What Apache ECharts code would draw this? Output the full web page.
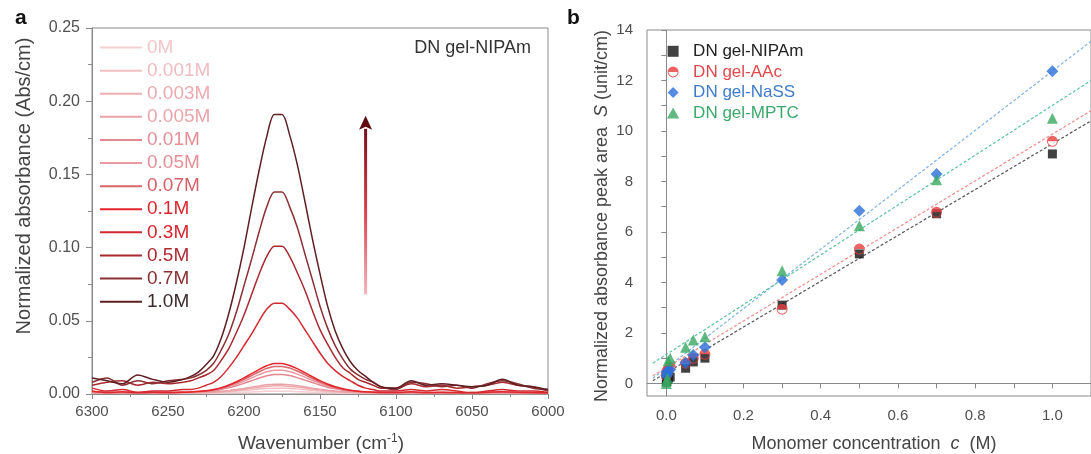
<!DOCTYPE html>
<html><head><meta charset="utf-8">
<script src="https://cdn.jsdelivr.net/npm/echarts@6/dist/echarts.min.js"></script>
<style>html,body{margin:0;padding:0;background:#fff;}#c{width:1091px;height:454px;}</style>
</head><body><div id="c"></div>
<script>
// ---------- Panel a data ----------
const wavenumbers = [6300,6290,6280,6270,6260,6250,6240,6235,6230,6225,6220,6215,6210,6205,6200,6195,6190,6185,6180,6175,6170,6165,6160,6155,6150,6145,6140,6135,6130,6125,6120,6115,6110,6100,6090,6080,6070,6060,6050,6040,6030,6020,6010,6000];
const concLabels = ['0M','0.001M','0.003M','0.005M','0.01M','0.05M','0.07M','0.1M','0.3M','0.5M','0.7M','1.0M'];
const abs0M    = [0.0005,0.0006,0.0005,0.0005,0.0005,0.0005, 0.0005,0.0005,0.0006,0.0006,0.0007,0.0008,0.0009,0.001,0.0012,0.0014,0.0016,0.0018,0.0019,0.0019,0.0018,0.0016,0.0014,0.0012,0.001,0.0009,0.0008,0.0007,0.0006,0.0006,0.0005,0.0005,0.0005, 0.0005,0.0005,0.0004,0.0005,0.0004,0.0004,0.0005,0.0005,0.0004,0.0004,0.0004];
const abs0001M = [0.0006,0.0007,0.0006,0.0006,0.0006,0.0006, 0.0006,0.0007,0.0007,0.0008,0.0009,0.0012,0.0015,0.0019,0.0024,0.0029,0.0034,0.0038,0.004,0.004,0.0038,0.0035,0.003,0.0025,0.002,0.0016,0.0013,0.001,0.0009,0.0008,0.0007,0.0006,0.0006, 0.0006,0.0006,0.0005,0.0006,0.0005,0.0005,0.0006,0.0006,0.0005,0.0005,0.0005];
const abs0003M = [0.0007,0.0008,0.0007,0.0008,0.0007,0.0007, 0.0009,0.0009,0.001,0.0011,0.0013,0.0016,0.002,0.0026,0.0032,0.0039,0.0046,0.0052,0.0056,0.0056,0.0052,0.0047,0.0041,0.0034,0.0027,0.0022,0.0017,0.0014,0.0012,0.001,0.0009,0.0009,0.0008, 0.0007,0.0008,0.0007,0.0007,0.0006,0.0007,0.0007,0.0008,0.0007,0.0006,0.0006];
const abs0005M = [0.0008,0.0009,0.0007,0.0008,0.0007,0.0008, 0.0009,0.001,0.001,0.0012,0.0014,0.0018,0.0023,0.003,0.0038,0.0047,0.0055,0.0063,0.0067,0.0067,0.0064,0.0057,0.0049,0.004,0.0032,0.0025,0.002,0.0016,0.0013,0.0011,0.001,0.0009,0.0008, 0.0008,0.0009,0.0007,0.0008,0.0007,0.0007,0.0008,0.0009,0.0007,0.0007,0.0006];
const abs001M  = [0.0012,0.0009,0.001,0.0008,0.001,0.0009, 0.0012,0.0013,0.0015,0.0018,0.0023,0.0031,0.0042,0.0056,0.0073,0.0091,0.0109,0.0124,0.0134,0.0134,0.0126,0.0112,0.0095,0.0078,0.0061,0.0046,0.0035,0.0026,0.002,0.0016,0.0013,0.0012,0.001, 0.0009,0.001,0.0008,0.0009,0.0008,0.0007,0.0009,0.001,0.0008,0.0008,0.0006];
const abs005M  = [0.001,0.0012,0.0008,0.001,0.0009,0.001, 0.0012,0.0013,0.0016,0.002,0.0026,0.0036,0.005,0.0067,0.0088,0.011,0.0132,0.0152,0.0163,0.0163,0.0153,0.0136,0.0115,0.0094,0.0073,0.0055,0.0041,0.003,0.0022,0.0017,0.0014,0.0012,0.001, 0.0009,0.0011,0.0008,0.001,0.0009,0.0008,0.001,0.0012,0.0009,0.0008,0.0006];
const abs007M  = [0.0015,0.001,0.0012,0.0008,0.001,0.001, 0.0012,0.0014,0.0017,0.0021,0.0028,0.004,0.0056,0.0077,0.010,0.0126,0.0152,0.0175,0.0188,0.0188,0.0177,0.0157,0.0132,0.0107,0.0083,0.0062,0.0045,0.0033,0.0024,0.0018,0.0015,0.0012,0.0011, 0.001,0.0012,0.0009,0.001,0.0008,0.001,0.0011,0.0013,0.001,0.0009,0.0007];
const abs01M   = [0.002,0.001,0.0015,0.001,0.0012,0.001, 0.0012,0.0014,0.0018,0.0022,0.003,0.0043,0.0061,0.0084,0.011,0.0139,0.0168,0.0193,0.0208,0.0208,0.0195,0.0173,0.0146,0.0118,0.0091,0.0068,0.0049,0.0036,0.0026,0.0019,0.0015,0.0012,0.0011, 0.001,0.0015,0.001,0.0012,0.001,0.0008,0.0012,0.0015,0.0012,0.001,0.0008];
const abs03M   = [0.004,0.002,0.003,0.001,0.002,0.002, 0.003,0.003,0.004,0.006,0.008,0.012,0.018,0.025,0.033,0.041,0.050,0.058,0.062,0.062,0.058,0.052,0.044,0.036,0.028,0.021,0.016,0.012,0.009,0.006,0.004,0.003,0.002, 0.002,0.003,0.002,0.003,0.002,0.001,0.002,0.003,0.002,0.002,0.001];
const abs05M   = [0.006,0.008,0.009,0.006,0.008,0.007, 0.008,0.009,0.011,0.013,0.016,0.023,0.031,0.042,0.054,0.068,0.082,0.094,0.101,0.101,0.094,0.083,0.071,0.057,0.044,0.034,0.025,0.018,0.014,0.010,0.008,0.006,0.004, 0.004,0.007,0.005,0.006,0.004,0.005,0.006,0.008,0.006,0.005,0.002];
const abs07M   = [0.008,0.011,0.006,0.009,0.007,0.009, 0.010,0.011,0.013,0.016,0.021,0.030,0.041,0.056,0.074,0.092,0.111,0.128,0.138,0.138,0.128,0.114,0.096,0.078,0.060,0.045,0.033,0.024,0.017,0.013,0.010,0.008,0.005, 0.003,0.008,0.007,0.005,0.006,0.004,0.007,0.009,0.007,0.004,0.003];
const abs10M   = [0.011,0.009,0.007,0.013,0.010,0.008, 0.010,0.012,0.015,0.020,0.026,0.038,0.055,0.076,0.100,0.127,0.153,0.176,0.191,0.191,0.177,0.157,0.132,0.106,0.082,0.060,0.043,0.031,0.022,0.016,0.012,0.008,0.005, 0.004,0.009,0.006,0.007,0.006,0.005,0.006,0.010,0.006,0.005,0.003];
const spectra = [abs0M,abs0001M,abs0003M,abs0005M,abs001M,abs005M,abs007M,abs01M,abs03M,abs05M,abs07M,abs10M];
const arrowWavenumber = 6120;
const arrowFromAbs = 0.068;
const arrowToAbs = 0.190;

// ---------- Panel b data ----------
const monomerConc = [0, 0.001, 0.003, 0.005, 0.01, 0.05, 0.07, 0.1, 0.3, 0.5, 0.7, 1.0];
const areaNIPAm = [0.05, 0.1, 0.15, 0.2, 0.25, 0.6, 0.85, 1.0, 3.1, 5.13, 6.72, 9.09];
const areaAAc   = [0.3, 0.4, 0.5, 0.55, 0.65, 0.8, 1.0, 1.15, 2.94, 5.32, 6.78, 9.59];
const areaNaSS  = [0.3, 0.45, 0.35, 0.5, 0.55, 0.82, 1.12, 1.43, 4.1, 6.84, 8.3, 12.37];
const areaMPTC  = [0.0, 0.1, 0.2, 0.9, 1.0, 1.43, 1.72, 1.85, 4.46, 6.24, 8.07, 10.5];
const fitNIPAm = [[-0.035, 0.1], [1.1, 10.4]];
const fitAAc   = [[-0.035, 0.3], [1.1, 10.8]];
const fitNaSS  = [[-0.035, 0.2], [1.1, 13.55]];
const fitMPTC  = [[-0.035, 0.8], [1.1, 12.0]];
const gelNames = ['DN gel-NIPAm','DN gel-AAc','DN gel-NaSS','DN gel-MPTC'];
const xTicksB = [0, 0.1, 0.2, 0.3, 0.4, 0.5, 0.6, 0.7, 0.8, 0.9, 1.0, 1.1];
const xLabelsB = [0, 0.2, 0.4, 0.6, 0.8, 1.0];
const yTicksB = [0,1,2,3,4,5,6,7,8,9,10,11,12,13,14];
const yLabelsB = [0,2,4,6,8,10,12,14];

// ---------- styles ----------
const FONT = "'Liberation Sans', Arial, sans-serif";
const lineColors = ['#f6cfd2','#f2bfc3','#eeadb2','#eaa2a8','#e4868e','#e99aa0','#d8646c','#e3262c','#d22a30','#a82a30','#8a3034','#5e1e22'];
const legendTextColors = ['#f3c6c9','#efbcc0','#ecabb0','#e9a5ab','#e58e96','#e58f97','#d65f68','#df262c','#d5272d','#ae2a30','#8a3034','#3b2a2b'];
const gelColors = ['#111111','#e83b3b','#2b6fda','#38a860'];
const gelTextColors = ['#222222','#e0494c','#3c7ccb','#3da86b'];
const fitColors = ['#555555','#f08c8c','#7fb2e6','#5cc2a6'];
const halfCircle = 'path://M0,10 A10,10 0 0 1 20,10 Z M0,10 A10,10 0 0 0 20,10 L18.2,10 A8.2,8.2 0 0 1 1.8,10 Z';
const legendIcons = ['path://M0,0H10V10H0Z', halfCircle, 'path://M5,0L10,5L5,10L0,5Z', 'path://M5,0L10,9L0,9Z'];

const chart = echarts.init(document.getElementById('c'));
const axisLineStyle = {lineStyle:{color:'#8a8a8a', width:1}};
const labelStyle = {color:'#505050', fontFamily:FONT};

const seriesA = concLabels.map((name, i) => ({
  name, type:'line', xAxisIndex:0, yAxisIndex:0,
  data: wavenumbers.map((w, j) => [w, spectra[i][j]]),
  showSymbol:false, smooth:0.3, silent:true,
  lineStyle:{color:lineColors[i], width:1.5}, itemStyle:{color:lineColors[i]},
  z: 2 + i
}));

const gelData = [areaNIPAm, areaAAc, areaNaSS, areaMPTC];
const fitData = [fitNIPAm, fitAAc, fitNaSS, fitMPTC];
const gelSymbols = ['rect', halfCircle, 'diamond', 'triangle'];
const gelSizes = [9, 11, 12, 11];
const seriesFit = fitData.map((d, i) => ({
  name: 'fit' + i, type:'line', xAxisIndex:1, yAxisIndex:1, data:d,
  showSymbol:false, symbol:'none', silent:true,
  lineStyle:{color:fitColors[i], width:1.2, type:[3,2]}, z:2
}));
const seriesAAcBg = {
  name:'aacbg', type:'scatter', xAxisIndex:1, yAxisIndex:1,
  data: monomerConc.map((c,j)=>[c, areaAAc[j]]), symbol:'circle', symbolSize:10,
  itemStyle:{color:'#ffffff'}, silent:true, z:4
};
const seriesB = gelNames.map((name, i) => ({
  name, type:'scatter', xAxisIndex:1, yAxisIndex:1,
  data: monomerConc.map((c, j) => [c, gelData[i][j]]),
  symbol: gelSymbols[i], symbolSize: gelSizes[i],
  itemStyle:{color:gelColors[i]}, silent:true, z: 5 + i
}));

chart.setOption({
  animation:false,
  backgroundColor:'#ffffff',
  grid:[
    {left:92, right:543, top:28, bottom:60, show:true, borderColor:'#8a8a8a', borderWidth:1},
    {left:647, right:-11, top:30, bottom:58, show:true, borderColor:'#8a8a8a', borderWidth:1}
  ],
  xAxis:[
    {gridIndex:0, type:'value', inverse:true, min:6000, max:6300, interval:50,
     axisLine:axisLineStyle, axisTick:{length:5, lineStyle:{color:'#8a8a8a'}},
     minorTick:{show:true, splitNumber:2, length:3, lineStyle:{color:'#8a8a8a'}},
     splitLine:{show:false}, minorSplitLine:{show:false},
     axisLabel:Object.assign({fontSize:15, margin:10, formatter:v=>String(v)}, labelStyle)},
    {gridIndex:1, type:'value', min:-0.05, max:1.1,
     axisLine:axisLineStyle,
     axisTick:{customValues:xTicksB, length:5, lineStyle:{color:'#8a8a8a'}},
     splitLine:{show:false},
     axisLabel:Object.assign({fontSize:15, margin:12, customValues:xLabelsB, formatter:v=>v.toFixed(1)}, labelStyle)}
  ],
  yAxis:[
    {gridIndex:0, type:'value', min:0, max:0.25, interval:0.05,
     axisLine:Object.assign({show:true}, axisLineStyle), axisTick:{show:true, length:6, lineStyle:{color:'#8a8a8a'}},
     minorTick:{show:true, splitNumber:2, length:4, lineStyle:{color:'#8a8a8a'}},
     splitLine:{show:false}, minorSplitLine:{show:false},
     axisLabel:Object.assign({fontSize:16, margin:12, formatter:v=>v.toFixed(2)}, labelStyle)},
    {gridIndex:1, type:'value', min:-0.5, max:14,
     axisLine:Object.assign({show:true}, axisLineStyle),
     axisTick:{show:true, customValues:yTicksB, length:5, lineStyle:{color:'#8a8a8a'}},
     splitLine:{show:false},
     axisLabel:Object.assign({fontSize:15, margin:14, customValues:yLabelsB}, labelStyle)}
  ],
  legend:[
    {orient:'vertical', left:95, top:31, itemGap:0, itemWidth:42, itemHeight:2, icon:'rect',
     selectedMode:false,
     textStyle:{fontSize:19, lineHeight:23.1, fontFamily:FONT},
     data: concLabels.map((n,i)=>({name:n, textStyle:{color:legendTextColors[i]}}))},
    {orient:'vertical', left:662, top:36, itemGap:0, itemWidth:30, itemHeight:11,
     selectedMode:false, symbolKeepAspect:true,
     textStyle:{fontSize:17, lineHeight:20.6, fontFamily:FONT},
     data: gelNames.map((n,i)=>({name:n, icon:legendIcons[i], textStyle:{color:gelTextColors[i]}}))}
  ],
  series: seriesA.concat(seriesFit, [seriesAAcBg], seriesB)
});

// ---------- annotations ----------
const pFrom = chart.convertToPixel({gridIndex:0}, [arrowWavenumber, arrowFromAbs]);
const pTo = chart.convertToPixel({gridIndex:0}, [arrowWavenumber, arrowToAbs]);
const headH = 14, headW = 6.5;
chart.setOption({
  graphic:[
    {type:'text', left:15, top:8, style:{text:'a', font:'bold 21px '+FONT, fill:'#111'}},
    {type:'text', left:567, top:8, style:{text:'b', font:'bold 21px '+FONT, fill:'#111'}},
    {type:'text', x:531, y:48, style:{text:'DN gel-NIPAm', font:'18px '+FONT, fill:'#333', align:'right', verticalAlign:'middle'}},
    {type:'text', x:24, y:186, rotation:Math.PI/2,
     style:{text:'Normalized absorbance (Abs/cm)', font:'20px '+FONT, fill:'#444', align:'center', verticalAlign:'middle'}},
    {type:'text', x:602, y:216, rotation:Math.PI/2,
     style:{text:'{a|Normalized absorbance peak area  }{i|S}{a| (unit/cm)}', align:'center', verticalAlign:'middle',
       rich:{a:{fontSize:18, fontFamily:FONT, fill:'#444', lineHeight:22}, i:{fontSize:18, fontFamily:FONT, fontStyle:'italic', fill:'#444', lineHeight:22}}}},
    {type:'text', x:321, y:444,
     style:{text:'{a|Wavenumber (cm}{s|-1}{a|)}', align:'center', verticalAlign:'middle',
       rich:{a:{fontSize:19, fontFamily:FONT, fill:'#444', lineHeight:22}, s:{fontSize:12, fontFamily:FONT, fill:'#444', lineHeight:12, verticalAlign:'top'}}}},
    {type:'text', x:874, y:444,
     style:{text:'{a|Monomer concentration  }{i|c}{a|  (M)}', align:'center', verticalAlign:'middle',
       rich:{a:{fontSize:18, fontFamily:FONT, fill:'#444', lineHeight:22}, i:{fontSize:18, fontFamily:FONT, fontStyle:'italic', fill:'#444', lineHeight:22}}}},
    {type:'rect', shape:{x:pTo[0]-1.5, y:pTo[1]+headH-1, width:3, height:pFrom[1]-pTo[1]-headH+1},
     style:{fill:new echarts.graphic.LinearGradient(0,1,0,0,[{offset:0,color:'#f5b3ba'},{offset:0.5,color:'#d9424c'},{offset:1,color:'#7a0f17'}])}, z:50},
    {type:'polygon', shape:{points:[[pTo[0],pTo[1]],[pTo[0]-headW,pTo[1]+headH],[pTo[0],pTo[1]+headH-3],[pTo[0]+headW,pTo[1]+headH]]},
     style:{fill:'#620a12'}, z:51}
  ]
});
</script>
</body></html>
